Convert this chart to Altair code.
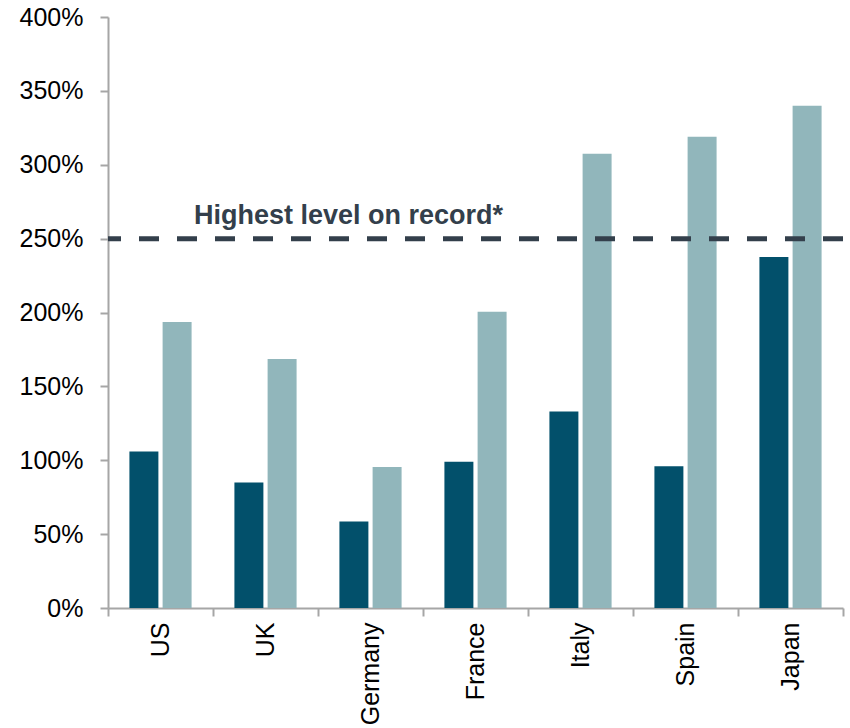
import altair as alt
import pandas as pd

countries = ["US", "UK", "Germany", "France", "Italy", "Spain", "Japan"]
series_names = ["Current", "Projected"]
series_current = [106, 85, 58.5, 99, 133, 96, 237.5]
series_projected = [193.5, 168.5, 95.5, 200.5, 307.5, 319, 340]
series_colors = ["#02506b", "#91b6bb"]
y_ticks = [0, 50, 100, 150, 200, 250, 300, 350, 400]
record_level = [250]
record_label = ["Highest level on record*"]

rows = []
for c, a, b in zip(countries, series_current, series_projected):
    rows.append({"country": c, "series": series_names[0], "value": a})
    rows.append({"country": c, "series": series_names[1], "value": b})
df = pd.DataFrame(rows)

ref = pd.DataFrame({"value": record_level, "label": record_label})

y_enc = alt.Y(
    "value:Q",
    scale=alt.Scale(domain=[0, 400], nice=False),
    axis=alt.Axis(title=None, values=y_ticks, labelExpr="datum.value + '%'", labelPadding=17),
)

bars = alt.Chart(df).mark_bar().encode(
    x=alt.X(
        "country:N",
        sort=countries,
        scale=alt.Scale(paddingInner=0, paddingOuter=0),
        axis=alt.Axis(title=None, labelAngle=-90, tickBand="extent", labelPadding=6),
    ),
    xOffset=alt.XOffset(
        "series:N",
        sort=series_names,
        scale=alt.Scale(paddingInner=0.127, paddingOuter=0.645),
    ),
    y=y_enc,
    color=alt.Color(
        "series:N",
        scale=alt.Scale(domain=series_names, range=series_colors),
        legend=None,
    ),
)

rule = alt.Chart(ref).mark_rule(
    strokeDash=[20, 18], strokeWidth=5, color="#333f4b"
).encode(y=y_enc)

label = alt.Chart(ref).mark_text(
    align="left",
    baseline="alphabetic",
    dy=-15,
    fontSize=27,
    fontWeight="bold",
    color="#333f4b",
    font="Liberation Sans",
).encode(y=y_enc, x=alt.value(86), text="label:N")

chart = (
    alt.layer(bars, rule, label)
    .properties(
        width=735,
        height=591,
        autosize=alt.AutoSizeParams(type="none"),
        padding={"left": 108, "top": 17, "right": 7, "bottom": 120},
    )
    .configure_view(stroke=None)
    .configure_axis(
        grid=False,
        domainColor="#a6a6a6",
        domainWidth=2,
        tickColor="#a6a6a6",
        tickWidth=2,
        tickSize=8,
        labelFont="Liberation Sans",
        labelFontSize=25,
        labelColor="#000000",
    )
)

chart.save("out.html", embed_options={"renderer": "svg", "actions": False})
